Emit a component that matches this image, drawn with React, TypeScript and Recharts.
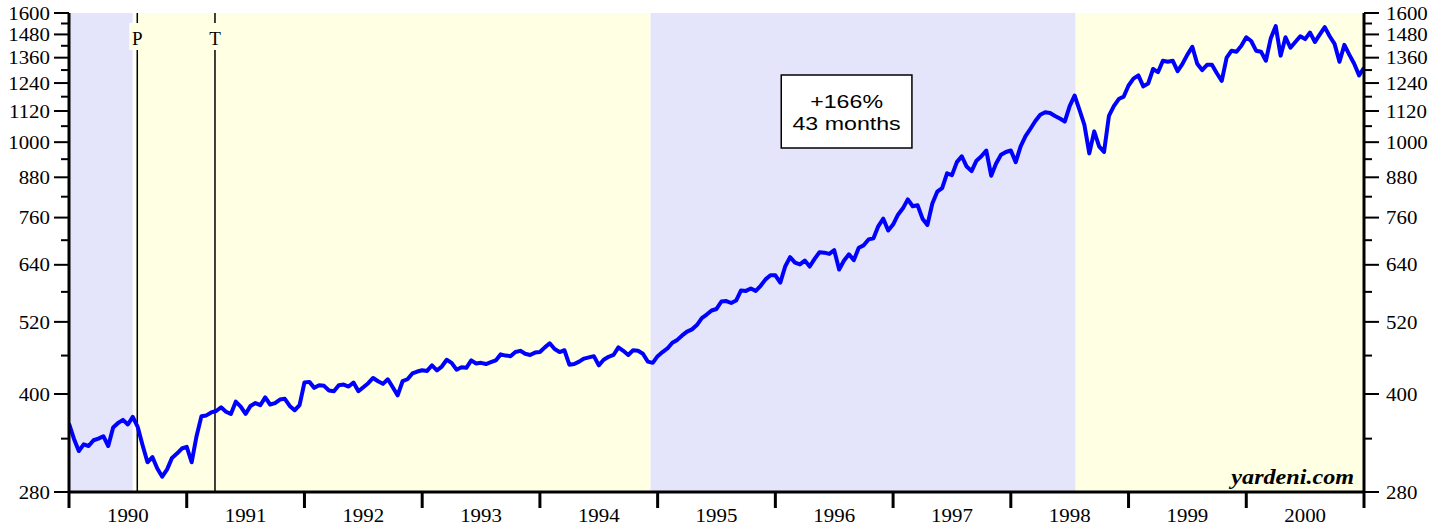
import { LineChart, Line, XAxis, YAxis, ReferenceArea, ReferenceLine } from "recharts";

// S&P 500, semi-monthly readings (1st and 15th of each month)
const years = [1990, 1991, 1992, 1993, 1994, 1995, 1996, 1997, 1998, 1999, 2000];

const sp1990 = [359, 340, 325, 333, 331, 338, 340, 343, 331, 354, 360, 364, 358, 368, 355, 332, 312, 318, 305, 296, 304, 317, 322, 328];
const sp1991 = [330, 312, 343, 369, 370, 374, 376, 381, 375, 372, 389, 382, 372, 383, 387, 384, 395, 385, 387, 392, 393, 383, 377, 384];
const sp1992 = [417, 418, 409, 413, 412, 405, 404, 413, 414, 411, 417, 404, 410, 416, 424, 419, 415, 422, 410, 398, 419, 422, 431, 434];
const sp1993 = [436, 435, 444, 436, 442, 453, 448, 437, 441, 440, 452, 447, 448, 446, 449, 452, 462, 460, 459, 466, 468, 463, 461, 465];
const sp1994 = [466, 474, 481, 471, 466, 469, 445, 446, 450, 455, 457, 459, 444, 453, 458, 461, 474, 468, 461, 469, 468, 463, 450, 448];
const sp1995 = [459, 466, 472, 482, 487, 495, 502, 506, 514, 527, 534, 542, 545, 560, 561, 557, 562, 583, 582, 587, 582, 593, 607, 616];
const sp1996 = [616, 600, 636, 658, 645, 641, 650, 636, 654, 670, 669, 666, 675, 629, 650, 665, 651, 681, 687, 702, 705, 737, 757, 725];
const sp1997 = [741, 768, 786, 812, 792, 795, 757, 740, 800, 835, 846, 893, 887, 930, 950, 915, 900, 935, 950, 970, 885, 925, 955, 965];
const sp1998 = [970, 930, 985, 1022, 1050, 1080, 1105, 1115, 1112, 1100, 1090, 1078, 1140, 1185, 1125, 1065, 960, 1040, 985, 965, 1100, 1140, 1170, 1180];
const sp1999 = [1229, 1260, 1275, 1225, 1238, 1305, 1290, 1345, 1340, 1345, 1295, 1330, 1375, 1415, 1330, 1300, 1325, 1325, 1285, 1250, 1360, 1395, 1390, 1420];
const sp2000 = [1465, 1445, 1395, 1390, 1345, 1460, 1525, 1370, 1465, 1410, 1440, 1470, 1455, 1490, 1440, 1480, 1520, 1470, 1430, 1340, 1425, 1375, 1330, 1275];
const lastClose = 1310;

const series = [sp1990, sp1991, sp1992, sp1993, sp1994, sp1995, sp1996, sp1997, sp1998, sp1999, sp2000];

const data = years.flatMap((yr, k) => series[k].map((v, i) => ({ t: yr + i / 24, v })));
data.push({ t: 2001, v: lastClose });

// y axis
const majorTicks = [280, 400, 520, 640, 760, 880, 1000, 1120, 1240, 1360, 1480, 1600];
const minorTicks = [340, 460, 580, 700, 820, 940, 1060, 1180, 1300, 1420, 1540];
const yTicks = [...majorTicks, ...minorTicks].sort((a, b) => a - b);

// x axis: year boundaries + label positions
const xBounds = [...years, 2001];
const xTicks = [...xBounds, ...years.map((y) => y + 0.5)].sort((a, b) => a - b);

// shaded periods
const bullMarkets = [
  { x1: 1990, x2: 1990.54, color: "#e4e4fa" },
  { x1: 1990.57, x2: 1994.94, color: "#ffffe4" },
  { x1: 1994.94, x2: 1998.55, color: "#e4e4fa" },
  { x1: 1998.55, x2: 2001, color: "#ffffe4" },
];
const recession = [
  { x: 1990.58, label: "P" },
  { x: 1991.24, label: "T" },
];

const serif = "'Liberation Serif', 'Times New Roman', serif";
const sans = "'Liberation Sans', Arial, sans-serif";

const LeftTick = (props: any) => {
  const { x, y, payload } = props;
  const major = majorTicks.includes(payload.value);
  return (
    <g>
      <line x1={x - (major ? 15 : 8)} x2={x} y1={y} y2={y} stroke="#000" strokeWidth={2} />
      {major && (
        <text transform={`translate(${x - 19},${y}) scale(1.1,1)`} dy="0.35em" textAnchor="end"
          fontFamily={serif} fontSize={19} fill="#000">
          {payload.value}
        </text>
      )}
    </g>
  );
};

const RightTick = (props: any) => {
  const { x, y, payload } = props;
  const major = majorTicks.includes(payload.value);
  return (
    <g>
      <line x1={x} x2={x + (major ? 15 : 8)} y1={y} y2={y} stroke="#000" strokeWidth={2} />
      {major && (
        <text transform={`translate(${x + 22},${y}) scale(1.1,1)`} dy="0.35em" textAnchor="start"
          fontFamily={serif} fontSize={19} fill="#000">
          {payload.value}
        </text>
      )}
    </g>
  );
};

const YearTick = (props: any) => {
  const { x, y, payload } = props;
  if (Number.isInteger(payload.value)) {
    return <line x1={x} x2={x} y1={y} y2={y + 16} stroke="#000" strokeWidth={3} />;
  }
  return (
    <text transform={`translate(${x},${y + 23}) scale(1.1,1)`} dy="0.35em" textAnchor="middle"
      fontFamily={serif} fontSize={19} fill="#000">
      {Math.floor(payload.value)}
    </text>
  );
};

export default function App() {
  return (
    <div>
      <style>{`body{margin:0}`}</style>
      <LineChart width={1446} height={527} data={data} margin={{ top: 13, right: 0, bottom: 0, left: 0 }}>
        {bullMarkets.map((b, i) => (
          <ReferenceArea key={i} x1={b.x1} x2={b.x2} y1={280} y2={1600} yAxisId="left"
            fill={b.color} fillOpacity={1} stroke="none" ifOverflow="hidden"
            label={i === bullMarkets.length - 1 ? ({ viewBox }: any) => (
              <text transform={`translate(${viewBox.x + viewBox.width - 10},${viewBox.y + viewBox.height - 8}) scale(1.15,1)`}
                textAnchor="end" fontFamily={serif} fontSize={21} fontWeight="bold" fontStyle="italic" fill="#000">
                yardeni.com
              </text>
            ) : undefined}
          />
        ))}
        {recession.map((r) => (
          <ReferenceLine key={r.label} x={r.x} yAxisId="left" stroke="#000" strokeWidth={1.5}
            label={({ viewBox }: any) => (
              <g>
                <rect x={viewBox.x - 8} y={viewBox.y + 10} width={16} height={27} fill="#ffffe4" />
                <text x={viewBox.x} y={viewBox.y + 25} dy="0.35em" textAnchor="middle"
                  fontFamily={serif} fontSize={19} fill="#000">
                  {r.label}
                </text>
              </g>
            )}
          />
        ))}
        <ReferenceArea x1={1996.05} x2={1997.16} y1={979} y2={1277} yAxisId="left"
          fill="#fff" fillOpacity={1} stroke="#000" strokeWidth={1.5}
          label={({ viewBox }: any) => (
            <g fontFamily={sans} fontSize={19} fill="#000" textAnchor="middle">
              <text transform={`translate(${viewBox.x + viewBox.width / 2},${viewBox.y + 26}) scale(1.22,1)`} dy="0.35em">+166%</text>
              <text transform={`translate(${viewBox.x + viewBox.width / 2},${viewBox.y + 48}) scale(1.22,1)`} dy="0.35em">43 months</text>
            </g>
          )}
        />
        <XAxis dataKey="t" type="number" domain={[1990, 2001]} ticks={xTicks} interval={0}
          allowDataOverflow height={35} tickSize={0} tickMargin={0} tickLine={false}
          axisLine={{ stroke: "#000", strokeWidth: 3 }} tick={<YearTick />} />
        <XAxis xAxisId="top" orientation="top" dataKey="t" type="number" domain={[1990, 2001]}
          height={0} tick={false} tickLine={false} axisLine={{ stroke: "#000", strokeWidth: 3 }} />
        <YAxis yAxisId="left" scale="log" type="number" domain={[280, 1600]} ticks={yTicks} interval={0}
          allowDataOverflow width={69} tickSize={0} tickMargin={0} tickLine={false}
          axisLine={{ stroke: "#000", strokeWidth: 3 }} tick={<LeftTick />} />
        <YAxis yAxisId="right" orientation="right" scale="log" type="number" domain={[280, 1600]}
          ticks={yTicks} interval={0} allowDataOverflow width={82} tickSize={0} tickMargin={0}
          tickLine={false} axisLine={{ stroke: "#000", strokeWidth: 3 }} tick={<RightTick />} />
        <Line yAxisId="left" dataKey="v" type="linear" stroke="#0000ff" strokeWidth={4}
          dot={false} isAnimationActive={false} strokeLinejoin="round" />
      </LineChart>
    </div>
  );
}
